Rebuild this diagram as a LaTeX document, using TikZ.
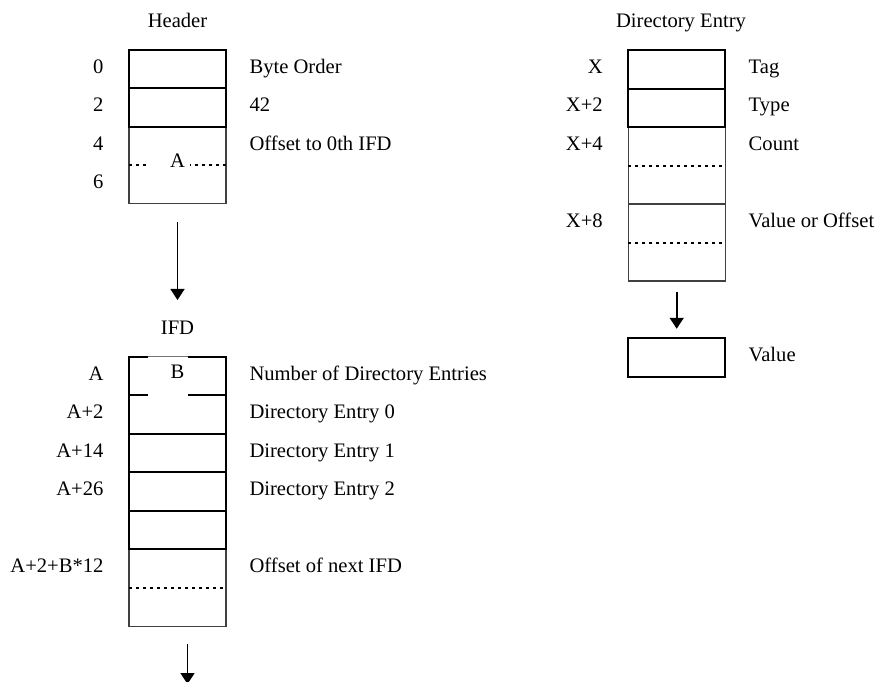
\documentclass[tikz,border=0pt]{standalone}
\usepackage{fontspec}
\setmainfont{Liberation Serif}
\usetikzlibrary{positioning,arrows.meta}

\tikzset{
  field/.style={draw,line width=2pt,minimum width=97pt,minimum height=38.5pt,inner sep=0pt,outer sep=0pt},
  slot/.style={field,draw=none},
  wide/.style={draw=black!75,line width=1.2pt,minimum width=97pt,minimum height=77pt,inner sep=0pt,outer sep=0pt},
  offs/.style={anchor=base east,xshift=-22pt,yshift=-4pt},
  desc/.style={anchor=base west,xshift=20pt,yshift=-4pt},
  inbox/.style={anchor=base,yshift=-2pt},
  half/.style={line width=2pt,dash pattern=on 3pt off 4pt},
  rim/.style={line width=2pt},
  ptr/.style={line width=1.7pt,-{Triangle[width=14pt,length=11pt]}}
}

\begin{document}
\begin{tikzpicture}[x=1pt,y=-1pt,font=\fontsize{20.6}{24}\selectfont]
\useasboundingbox (0,0) rectangle (877,681);

\node[anchor=base] (thdr) at (177.5,27) {Header};
\node[wide] (hoff) at (177.5,165.25) {};
\node[field,above=0pt of hoff] (hver) {};
\node[field,above=0pt of hver] (hbo) {};
\node[inbox] (ha) at (hoff.center) {A};
\draw[half] (hoff.west) -- ++(18,0) (hoff.east) -- ++(-36,0);

\node[offs] (l0) at (hbo.west) {0};
\node[offs] (l2) at (hver.west) {2};
\node[offs] (l4) at ([yshift=19.25pt]hoff.west) {4};
\node[offs] (l6) at ([yshift=-19.25pt]hoff.west) {6};
\node[desc] (dbo) at (hbo.east) {Byte Order};
\node[desc] (dver) at (hver.east) {42};
\node[desc] (doff) at ([yshift=19.25pt]hoff.east) {Offset to 0th IFD};

\node[anchor=base] (tifd) at (177.5,334) {IFD};
\draw[ptr] ([yshift=-18.5pt]hoff.south) -- ([yshift=17pt]tifd.north);

\node[wide] (inxt) at (177.5,587.75) {};
\node[field,above=0pt of inxt] (ie3) {};
\node[field,above=0pt of ie3] (ie2) {};
\node[field,above=0pt of ie2] (ie1) {};
\node[slot,above=0pt of ie1] (ie0) {};
\node[slot,above=0pt of ie0] (icnt) {};
\draw[rim] ([xshift=19pt]icnt.north west) -- (icnt.north west) -- (ie0.south west)
           ([xshift=-38pt]icnt.north east) -- (icnt.north east) -- (ie0.south east)
           (icnt.south west) -- ++(19,0) (icnt.south east) -- ++(-38,0);
\draw[black!55,line width=0.8pt] ([xshift=19pt]icnt.north west) -- ([xshift=-38pt]icnt.north east);
\node[inbox] (ib) at (icnt.center) {B};
\draw[half] (inxt.west) -- (inxt.east);

\node[offs] (la) at (icnt.west) {A};
\node[offs] (la2) at (ie0.west) {A+2};
\node[offs] (la14) at (ie1.west) {A+14};
\node[offs] (la26) at (ie2.west) {A+26};
\node[offs] (lanx) at ([yshift=19.25pt]inxt.west) {A+2+B*12};
\node[desc] (dcnt) at (icnt.east) {Number of Directory Entries};
\node[desc] (de0) at (ie0.east) {Directory Entry 0};
\node[desc] (de1) at (ie1.east) {Directory Entry 1};
\node[desc] (de2) at (ie2.east) {Directory Entry 2};
\node[desc] (dnx) at ([yshift=19.25pt]inxt.east) {Offset of next IFD};

\coordinate (nxt) at (187.5,684);
\draw[ptr] ([xshift=10pt,yshift=-18pt]inxt.south) -- (nxt);

\node[anchor=base] (tdir) at (681,27) {Directory Entry};
\node[wide] (xcnt) at (676.7,165.5) {};
\node[wide,below=0pt of xcnt] (xval) {};
\node[field,above=0pt of xcnt] (xtype) {};
\node[field,above=0pt of xtype] (xtag) {};
\draw[half] (xcnt.west) -- (xcnt.east) (xval.west) -- (xval.east);

\node[offs] (lx) at (xtag.west) {X};
\node[offs] (lx2) at (xtype.west) {X+2};
\node[offs] (lx4) at ([yshift=19.25pt]xcnt.west) {X+4};
\node[offs] (lx8) at ([yshift=19.25pt]xval.west) {X+8};
\node[desc] (dtag) at (xtag.east) {Tag};
\node[desc] (dtype) at (xtype.east) {Type};
\node[desc] (dcount) at ([yshift=19.25pt]xcnt.east) {Count};
\node[desc] (dval) at ([yshift=19.25pt]xval.east) {Value or Offset};

\node[field] (vbox) at (676.7,357.5) {};
\node[desc] (dv) at (vbox.east) {Value};
\draw[ptr] ([yshift=-10.5pt]xval.south) -- ([yshift=9.5pt]vbox.north);

\end{tikzpicture}
\end{document}
